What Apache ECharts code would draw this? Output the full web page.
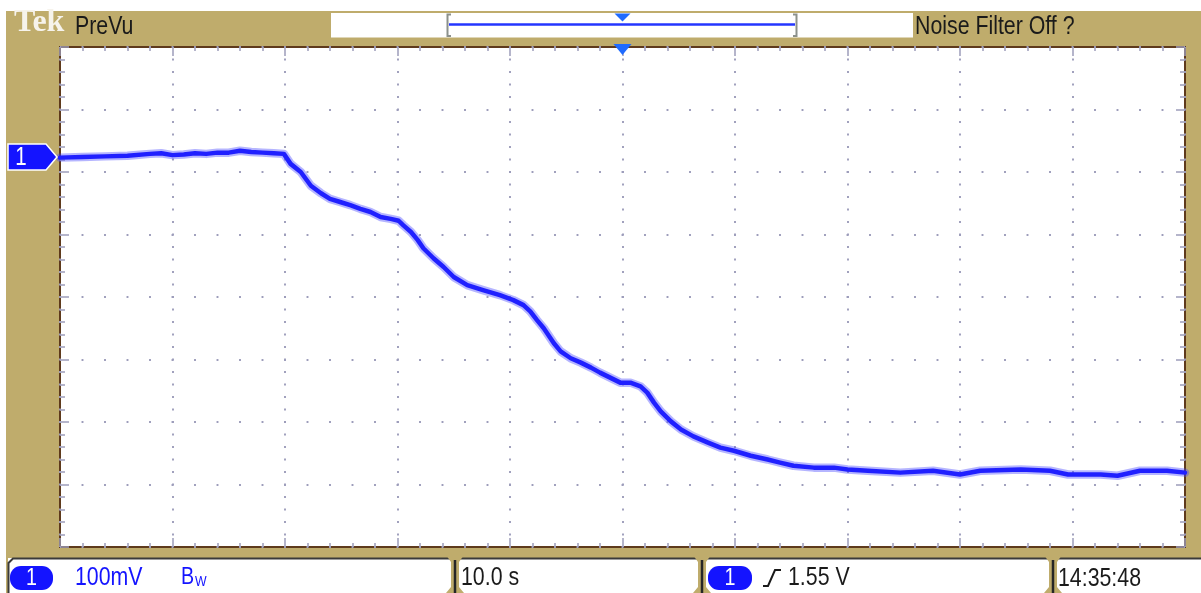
<!DOCTYPE html>
<html>
<head>
<meta charset="utf-8">
<script src="https://cdn.jsdelivr.net/npm/echarts@6/dist/echarts.min.js"></script>
<style>
  html, body { margin: 0; padding: 0; background: #ffffff; }
  #scope { width: 1201px; height: 593px; }
</style>
</head>
<body>
<div id="scope"></div>
<script>
// Channel 1 capture: time in seconds across the record, level in mV from screen centre.
const timeS = [
  0, 2, 4, 6, 8, 9, 10, 11, 12, 13, 14, 15, 16, 17, 18, 19, 19.9,
  20.5, 21.4, 22.3, 23.2, 24.0, 24.9, 25.8, 26.7, 27.6, 28.5, 29.4, 30.1,
  30.5, 31.2, 31.8, 32.3, 33.2, 34.1, 35.0, 36.2, 37.6, 39.1, 40.3, 41.2,
  41.8, 42.4, 43.0, 43.9, 44.5, 45.4, 46.3, 47.2, 48.0, 48.9, 49.8, 50.7,
  51.6, 52.2, 52.8, 53.4, 54.3, 55.2, 56.3, 57.6, 58.7, 59.9, 61.4, 62.9,
  64.0, 65.2, 67.0, 68.8, 70.0, 71.8, 74.7, 77.6, 80.0, 81.8, 85.4, 88.0,
  89.6, 92.5, 94.0, 96.0, 98.4, 100
];
const traceMv = [
  223, 224, 225, 226, 229, 230, 227, 228, 230, 229, 231, 231, 234, 232, 231, 230, 229,
  213, 200, 178, 166, 157, 152, 147, 141, 136, 128, 125, 122,
  115, 104, 91, 78, 62, 48, 32, 19, 11, 3, -5, -13,
  -23, -37, -50, -74, -87, -98, -105, -113, -121, -129, -137, -137,
  -143, -153, -169, -183, -199, -212, -223, -233, -241, -246, -254, -260,
  -265, -270, -273, -273, -276, -278, -281, -278, -284, -278, -276, -278,
  -284, -284, -286, -278, -278, -281
];

// Vertical scale: 8 divisions of 100 mV; horizontal: 10 divisions of 10 s.
const voltMin = -400, voltMax = 400, voltStep = 100;
const timeMin = 0, timeMax = 100, timeStep = 10;

const groundMv = 224;      // channel 1 reference marker
const triggerTimeS = 50;   // trigger position

const tekLabel = 'Tek';
const modeLabel = 'PreVu';
const filterLabel = 'Noise Filter Off ?';
const channelLabel = '1';
const scaleLabel = '100mV';
const bwMain = 'B';
const bwSub = 'W';
const timebaseLabel = '10.0 s';
const triggerLevelLabel = '1.55 V';
const clockLabel = '14:35:48';

const KHAKI = '#bfac6c';
const BROWN = '#5e3a1c';
const DOT = '#9d9dbb';
const TRACE = '#2020ff';
const MARK = '#1f6bff';
const CH = '#1414ff';
const INK = '#1a1a1a';
const SANS = '"Liberation Sans", Arial, sans-serif';
const NARROW = 0.82;

const chart = echarts.init(document.getElementById('scope'), null, { renderer: 'canvas' });
const points = timeS.map((t, i) => [t, traceMv[i]]);

const tickStyle = { color: DOT, width: 1.5 };

function timeAxis(pos, grid) {
  return {
    type: 'value', position: pos, min: timeMin, max: timeMax, interval: timeStep, z: 5,
    axisLine: { show: false, onZero: false },
    axisLabel: { show: false },
    axisTick: { show: true, inside: true, length: 9, lineStyle: tickStyle },
    minorTick: { show: true, splitNumber: 5, length: 4, lineStyle: tickStyle },
    splitLine: grid ? { show: true, lineStyle: { color: DOT, width: 1.9, type: [1.9, 10.6], dashOffset: 0.95 } } : { show: false },
    minorSplitLine: { show: false }
  };
}
function voltAxis(pos, grid) {
  return {
    type: 'value', position: pos, min: voltMin, max: voltMax, interval: voltStep, z: 5,
    axisLine: { show: false, onZero: false },
    axisLabel: { show: false },
    axisTick: { show: true, inside: true, length: 9, lineStyle: tickStyle },
    minorTick: { show: true, splitNumber: 5, length: 5, lineStyle: tickStyle },
    splitLine: grid ? { show: true, lineStyle: { color: DOT, width: 1.9, type: [1.9, 20.6], dashOffset: 0.95 } } : { show: false },
    minorSplitLine: { show: false }
  };
}

chart.setOption({
  animation: false,
  backgroundColor: '#ffffff',
  grid: {
    left: 60, top: 47, width: 1125, height: 500,
    show: true, backgroundColor: '#ffffff', borderColor: BROWN, borderWidth: 2, z: 0
  },
  xAxis: [timeAxis('bottom', true), timeAxis('top', false)],
  yAxis: [voltAxis('left', true), voltAxis('right', false)],
  series: [
    {
      type: 'line', data: points, symbol: 'none', silent: true, z: 8,
      lineStyle: { color: 'rgba(70,70,255,0.4)', width: 8.5, join: 'round', cap: 'round' }
    },
    {
      type: 'line', data: points, symbol: 'none', silent: true, z: 9,
      lineStyle: { color: TRACE, width: 4.5, join: 'round', cap: 'round' }
    }
  ]
});

const trigX = chart.convertToPixel({ xAxisIndex: 0 }, triggerTimeS);
const gndY = chart.convertToPixel({ yAxisIndex: 0 }, groundMv);

function txt(x, y, s, opt) {
  return Object.assign({
    type: 'text', x: x, y: y, z: 50, scaleX: NARROW,
    style: { x: 0, y: 0, text: s, fill: INK, font: '26px ' + SANS, align: 'left', verticalAlign: 'middle' }
  }, opt || {});
}
function divider(x) {
  return [
    { type: 'polygon', z: 40, shape: { points: [[x - 9, 555], [x + 9, 555], [x + 4, 562], [x + 4, 587], [x + 9, 593], [x - 9, 593], [x - 4, 587], [x - 4, 562]] }, style: { fill: KHAKI } },
    { type: 'line', z: 41, shape: { x1: x, y1: 560, x2: x, y2: 593 }, style: { stroke: '#262626', lineWidth: 2.5 } }
  ];
}
function pill(x, w) {
  return [
    { type: 'rect', z: 45, shape: { x: x, y: 566, width: w, height: 24, r: 11 }, style: { fill: CH } },
    {
      type: 'text', x: x + w / 2, y: 578.5, z: 46, scaleX: NARROW,
      style: { text: channelLabel, fill: '#ffffff', font: '24px ' + SANS, align: 'center', verticalAlign: 'middle' }
    }
  ];
}

const graphics = [
  // instrument frame
  { type: 'rect', z: -100, shape: { x: 6, y: 11, width: 1195, height: 582 }, style: { fill: KHAKI } },
  // header record-view box
  { type: 'rect', z: 10, shape: { x: 331, y: 13, width: 582, height: 24.5 }, style: { fill: '#ffffff' } },
  { type: 'polyline', z: 12, shape: { points: [[451, 14.5], [447.5, 14.5], [447.5, 36], [451, 36]] }, style: { stroke: '#8c918c', lineWidth: 2, fill: null } },
  { type: 'polyline', z: 12, shape: { points: [[793, 14.5], [796.5, 14.5], [796.5, 36], [793, 36]] }, style: { stroke: '#8c918c', lineWidth: 2, fill: null } },
  { type: 'line', z: 12, shape: { x1: 449, y1: 24.5, x2: 795, y2: 24.5 }, style: { stroke: '#2436ff', lineWidth: 2.5 } },
  { type: 'polygon', z: 13, shape: { points: [[trigX - 8, 13.5], [trigX + 8, 13.5], [trigX, 21.5]] }, style: { fill: MARK } },
  txt(14, 23, tekLabel, { scaleX: 1, style: { x: 0, y: 0, text: tekLabel, fill: '#f6f3ec', font: 'bold 32px "Liberation Serif", "DejaVu Serif", serif', align: 'left', verticalAlign: 'middle' } }),
  txt(75, 27, modeLabel),
  txt(915, 26.5, filterLabel),
  // trigger position marker
  { type: 'polygon', z: 60, shape: { points: [[trigX - 9, 44], [trigX + 9, 44], [trigX, 55]] }, style: { fill: MARK } },
  // channel 1 reference marker
  { type: 'polygon', z: 60, shape: { points: [[8, gndY - 13], [46, gndY - 13], [57, gndY], [46, gndY + 13], [8, gndY + 13]] }, style: { fill: CH, stroke: '#ffffff', lineWidth: 1.5 } },
  { type: 'text', x: 21, y: gndY + 1, z: 61, scaleX: NARROW, style: { text: channelLabel, fill: '#ffffff', font: '25px ' + SANS, align: 'center', verticalAlign: 'middle' } },
  // status bar
  { type: 'rect', z: 30, shape: { x: 8, y: 558, width: 1193, height: 35 }, style: { fill: '#ffffff' } },
  { type: 'polyline', z: 31, shape: { points: [[8.5, 593], [8.5, 563], [13, 558.5], [1201, 558.5]] }, style: { stroke: '#3a3a3a', lineWidth: 2, fill: null } }
].concat(
  divider(455), divider(702), divider(1053),
  pill(10, 43), pill(708, 44),
  [
    txt(75, 578, scaleLabel, { style: { x: 0, y: 0, text: scaleLabel, fill: CH, font: '26px ' + SANS, align: 'left', verticalAlign: 'middle' } }),
    txt(181, 577, bwMain, { style: { x: 0, y: 0, text: bwMain, fill: CH, font: '24px ' + SANS, align: 'left', verticalAlign: 'middle' } }),
    txt(195, 582, bwSub, { style: { x: 0, y: 0, text: bwSub, fill: CH, font: '15px ' + SANS, align: 'left', verticalAlign: 'middle' } }),
    txt(461, 578, timebaseLabel),
    { type: 'polyline', z: 50, shape: { points: [[763, 586], [768, 586], [775, 570], [781, 570]] }, style: { stroke: INK, lineWidth: 2, fill: null } },
    txt(788, 578, triggerLevelLabel),
    txt(1058, 578.5, clockLabel)
  ]
);

chart.setOption({ graphic: graphics });
</script>
</body>
</html>
